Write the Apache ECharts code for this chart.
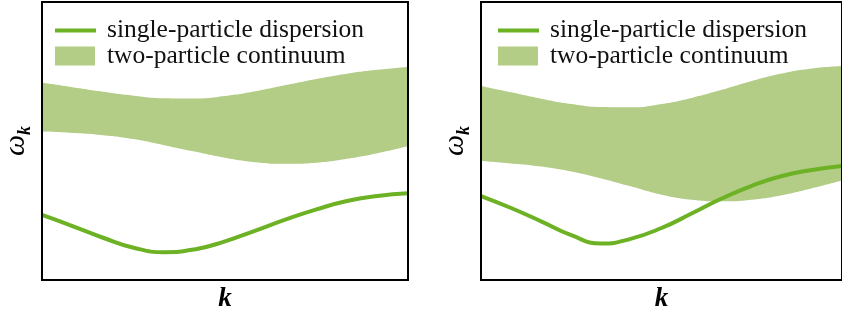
<!DOCTYPE html>
<html>
<head>
<meta charset="utf-8">
<script src="https://cdn.jsdelivr.net/npm/echarts@6/dist/echarts.min.js"></script>
<style>html,body{margin:0;padding:0;background:#fff;}#c{width:842px;height:320px;}</style>
</head>
<body>
<div id="c"></div>
<script>
// momentum samples (evenly spaced across each panel)
const k = ['0', '1', '2', '3', '4', '5', '6', '7', '8', '9', '10', '11', '12'];
// left panel
const leftUpper = [71.0, 69.3, 67.7, 66.3, 65.4, 65.3, 66.2, 67.9, 70.1, 72.3, 74.2, 75.6, 76.6];
const leftLower = [53.4, 52.9, 52.1, 50.7, 48.5, 46.2, 44.0, 42.4, 41.8, 42.2, 43.6, 45.6, 48.2];
const leftDisp  = [23.4, 19.4, 15.2, 11.6, 10.0, 11.0, 13.9, 17.8, 21.8, 25.4, 28.4, 30.2, 31.2];
// right panel
const rightUpper = [69.8, 67.5, 65.2, 63.3, 62.2, 62.1, 63.3, 65.5, 68.4, 71.6, 74.3, 76.1, 77.0];
const rightLower = [42.8, 41.9, 40.8, 39.0, 36.5, 33.6, 30.7, 28.9, 28.3, 28.9, 30.5, 33.0, 35.8];
const rightDisp  = [30.2, 25.9, 21.1, 16.1, 13.1, 14.9, 18.7, 23.9, 29.3, 33.9, 37.4, 39.6, 41.0];

const seriesNames = ['single-particle dispersion', 'two-particle continuum'];
const xLabel = 'k';

const LINE = '#6cb224';
const BAND = '#b3cc86';
const SERIF = 'Liberation Serif';

function diff(a, b) { return a.map((v, i) => +(v - b[i]).toFixed(3)); }

function panelSeries(idx, upper, lower, disp) {
  return [
    { type: 'line', xAxisIndex: idx, yAxisIndex: idx, stack: 'band' + idx, smooth: 0.5,
      symbol: 'none', silent: true, lineStyle: { opacity: 0, width: 0 },
      data: lower, z: 1 },
    { type: 'line', name: seriesNames[1], xAxisIndex: idx, yAxisIndex: idx, stack: 'band' + idx, smooth: 0.5,
      symbol: 'none', silent: true, lineStyle: { opacity: 0, width: 0 },
      itemStyle: { color: BAND }, areaStyle: { color: BAND, opacity: 1 },
      data: diff(upper, lower), z: 1 },
    { type: 'line', name: seriesNames[0], xAxisIndex: idx, yAxisIndex: idx, smooth: 0.5,
      symbol: 'none', silent: true, itemStyle: { color: LINE },
      lineStyle: { color: LINE, width: 4 }, data: disp, z: 2 }
  ];
}

function xAx(idx) {
  return { type: 'category', gridIndex: idx, data: k, boundaryGap: false,
    axisLine: { show: false }, axisTick: { show: false }, axisLabel: { show: false }, splitLine: { show: false },
    name: xLabel, nameLocation: 'middle', nameGap: 6,
    nameTextStyle: { fontFamily: SERIF, fontStyle: 'italic', fontWeight: 'bold', fontSize: 27, color: '#000' } };
}
function yAx(idx) {
  return { type: 'value', gridIndex: idx, min: 0, max: 100,
    axisLine: { show: false }, axisTick: { show: false }, axisLabel: { show: false }, splitLine: { show: false },
    name: '{w|ω}{s|k}', nameLocation: 'middle', nameGap: 8, nameRotate: 90,
    nameTextStyle: { color: '#000', rich: {
      w: { fontFamily: SERIF, fontStyle: 'italic', fontSize: 30, lineHeight: 36, verticalAlign: 'middle', color: '#000' },
      s: { fontFamily: SERIF, fontStyle: 'italic', fontWeight: 'bold', fontSize: 18, lineHeight: 18, verticalAlign: 'bottom', color: '#000' }
    } } };
}

function legends(left) {
  return [
    { left: left, top: 17.5, padding: 0, orient: 'vertical', selectedMode: false,
      itemWidth: 41, itemHeight: 4, icon: 'rect', data: [seriesNames[0]],
      textStyle: { fontFamily: SERIF, fontSize: 25.5, lineHeight: 20, color: '#111', padding: [0, 0, 0, 6] } },
    { left: left, top: 43, padding: 0, orient: 'vertical', selectedMode: false,
      itemWidth: 40, itemHeight: 19, icon: 'rect', data: [seriesNames[1]],
      textStyle: { fontFamily: SERIF, fontSize: 25.5, lineHeight: 20, color: '#111', padding: [0, 0, 0, 7] } }
  ];
}

const chart = echarts.init(document.getElementById('c'), null, { renderer: 'canvas' });
chart.setOption({
  animation: false,
  backgroundColor: '#fff',
  grid: [
    { left: 39, top: 2, width: 369, height: 278, show: true, borderColor: '#000', borderWidth: 2, backgroundColor: 'transparent', z: 5 },
    { left: 481, top: 2, width: 369, height: 278, show: true, borderColor: '#000', borderWidth: 2, backgroundColor: 'transparent', z: 5 }
  ],
  xAxis: [xAx(0), xAx(1)],
  yAxis: [yAx(0), yAx(1)],
  legend: legends(55).concat(legends(498)),
  series: panelSeries(0, leftUpper, leftLower, leftDisp).concat(panelSeries(1, rightUpper, rightLower, rightDisp))
});
</script>
</body>
</html>
